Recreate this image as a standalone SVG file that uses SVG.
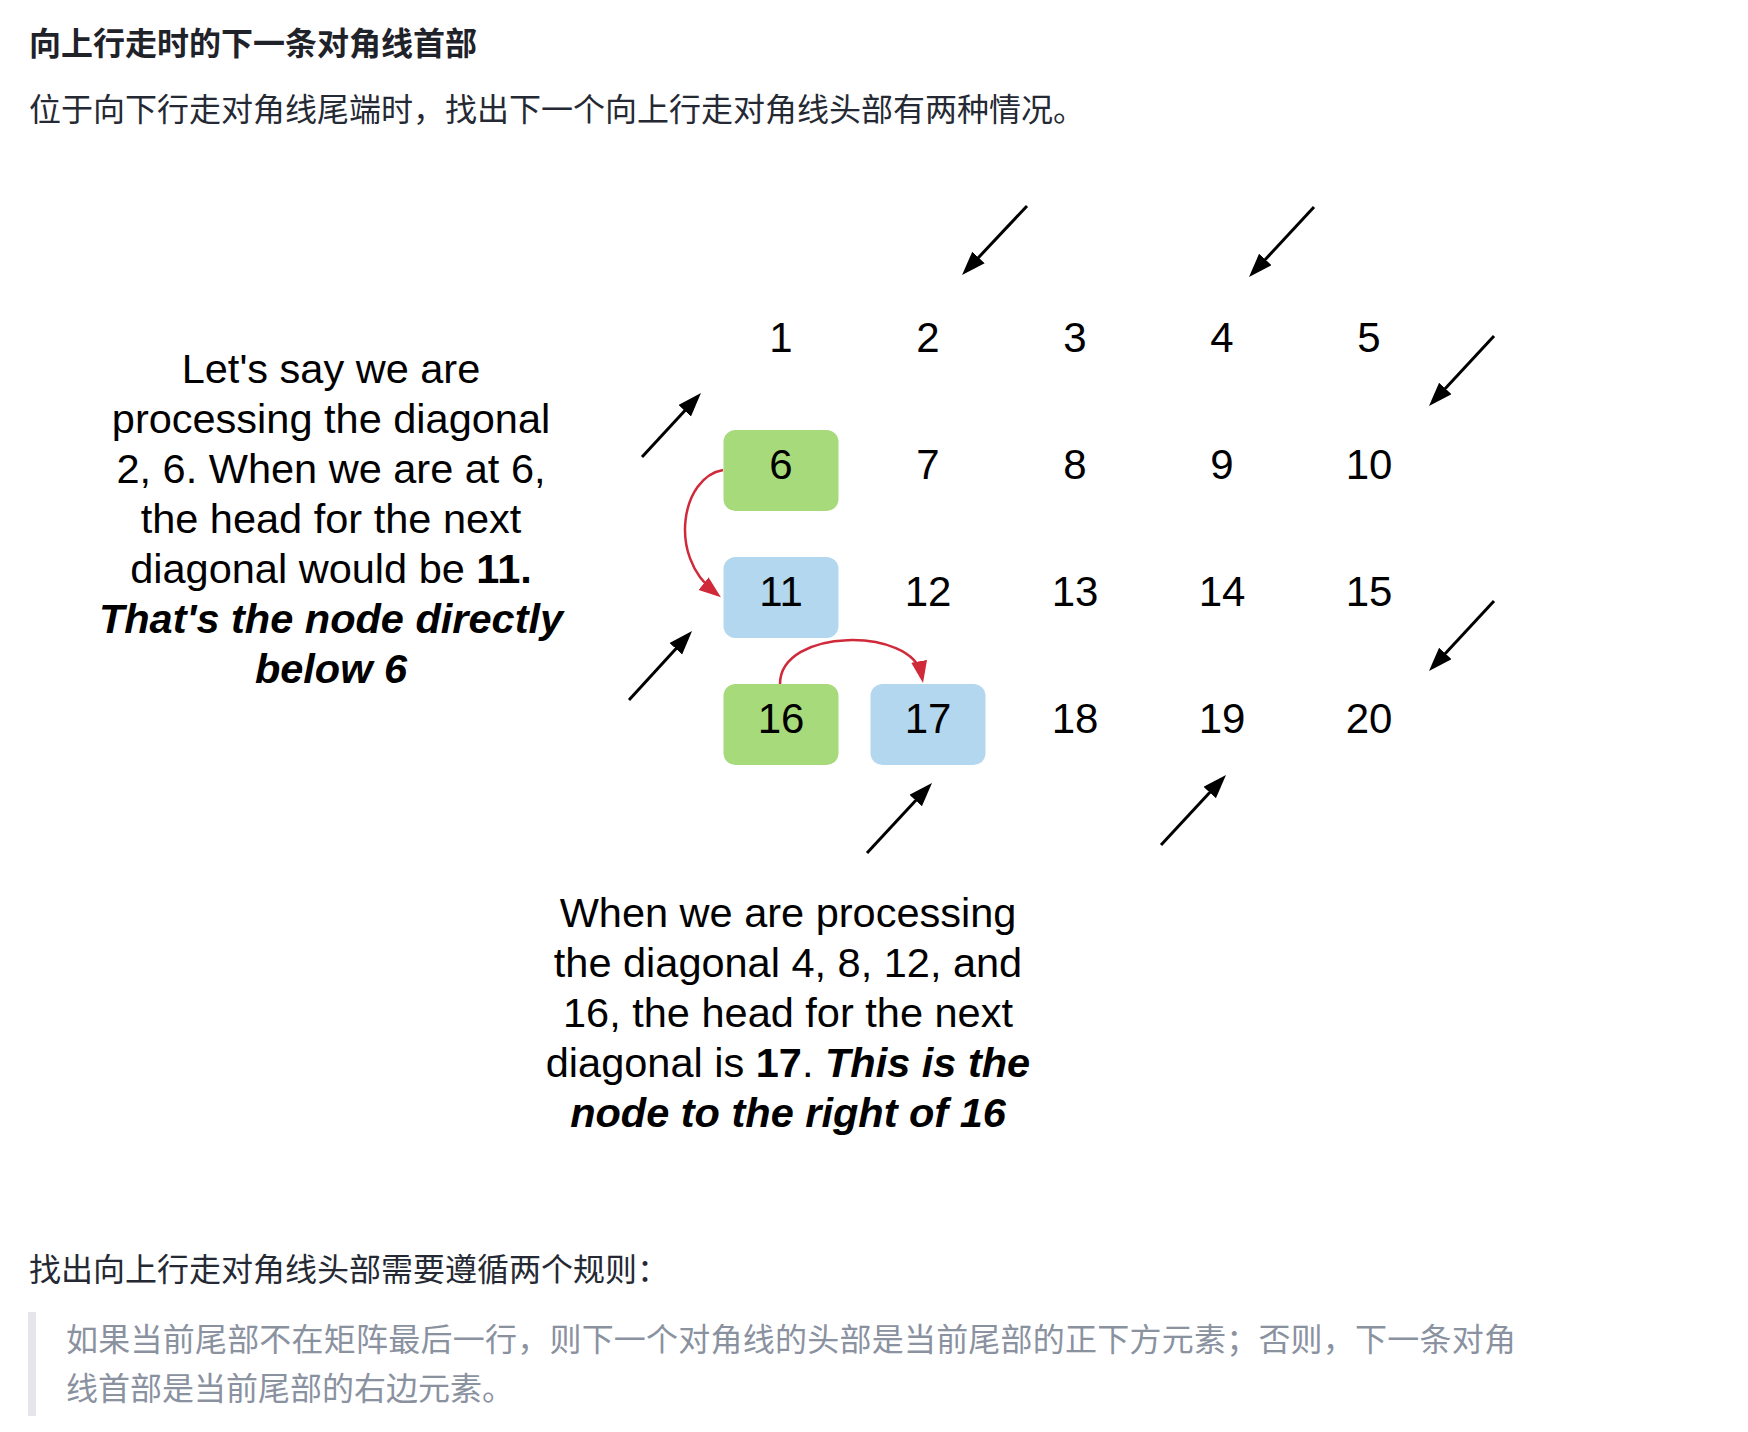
<svg xmlns="http://www.w3.org/2000/svg" width="1748" height="1432" viewBox="0 0 1748 1432">
  <style>
    .cjk { font-family: "Noto Sans CJK SC", sans-serif; font-size: 32px; }
    .title { fill: #1f2329; font-weight: bold; }
    .body { fill: #252933; }
    .quote { fill: #8a919f; }
    .en { font-family: "Liberation Sans", Arial, sans-serif; font-size: 41.5px; fill: #000; text-anchor: middle; }
    .num { font-family: "Liberation Sans", Arial, sans-serif; font-size: 42px; fill: #000; text-anchor: middle; }
    .bi { font-weight: bold; font-style: italic; }
    .b { font-weight: bold; }
    .green { fill: #a6da7a; }
    .blue { fill: #b2d7ee; }
    .arrow { fill: none; stroke: #000; stroke-width: 3; }
    .red { fill: none; stroke: #d0293a; stroke-width: 2.5; }
  </style>
  <defs>
    <marker id="ah" markerUnits="userSpaceOnUse" markerWidth="26" markerHeight="18" refX="14" refY="8.5" orient="auto">
      <path d="M0,0 L24,8.5 L0,17 z" fill="#000"/>
    </marker>
    <marker id="ahr" markerUnits="userSpaceOnUse" markerWidth="24" markerHeight="18" refX="14" refY="8" orient="auto">
      <path d="M0,0 L22,8 L0,16 z" fill="#d0293a"/>
    </marker>
  </defs>
  <rect width="1748" height="1432" fill="#fff"/>

  <g id="header">
    <text class="cjk title" x="29" y="55">向上行走时的下一条对角线首部</text>
    <text class="cjk body" x="29" y="121">位于向下行走对角线尾端时，找出下一个向上行走对角线头部有两种情况。</text>
  </g>

  <g id="note-left">
    <text class="en" x="331" y="383">Let's say we are</text>
    <text class="en" x="331" y="433">processing the diagonal</text>
    <text class="en" x="331" y="483">2, 6. When we are at 6,</text>
    <text class="en" x="331" y="533">the head for the next</text>
    <text class="en" x="331" y="583">diagonal would be <tspan class="b">11.</tspan></text>
    <text class="en bi" x="331" y="633">That's the node directly</text>
    <text class="en bi" x="331" y="683">below 6</text>
  </g>

  <g id="note-bottom">
    <text class="en" x="788" y="927">When we are processing</text>
    <text class="en" x="788" y="977">the diagonal 4, 8, 12, and</text>
    <text class="en" x="788" y="1027">16, the head for the next</text>
    <text class="en" x="788" y="1077">diagonal is <tspan class="b">17</tspan>. <tspan class="bi">This is the</tspan></text>
    <text class="en bi" x="788" y="1127">node to the right of 16</text>
  </g>

  <g id="node-1"><text class="num" x="781" y="352">1</text></g>
  <g id="node-2"><text class="num" x="928" y="352">2</text></g>
  <g id="node-3"><text class="num" x="1075" y="352">3</text></g>
  <g id="node-4"><text class="num" x="1222" y="352">4</text></g>
  <g id="node-5"><text class="num" x="1369" y="352">5</text></g>

  <g id="node-6"><rect class="green" x="723.5" y="430" width="115" height="81" rx="12"/><text class="num" x="781" y="479">6</text></g>
  <g id="node-7"><text class="num" x="928" y="479">7</text></g>
  <g id="node-8"><text class="num" x="1075" y="479">8</text></g>
  <g id="node-9"><text class="num" x="1222" y="479">9</text></g>
  <g id="node-10"><text class="num" x="1369" y="479">10</text></g>

  <g id="node-11"><rect class="blue" x="723.5" y="557" width="115" height="81" rx="12"/><text class="num" x="781" y="606">11</text></g>
  <g id="node-12"><text class="num" x="928" y="606">12</text></g>
  <g id="node-13"><text class="num" x="1075" y="606">13</text></g>
  <g id="node-14"><text class="num" x="1222" y="606">14</text></g>
  <g id="node-15"><text class="num" x="1369" y="606">15</text></g>

  <g id="node-16"><rect class="green" x="723.5" y="684" width="115" height="81" rx="12"/><text class="num" x="781" y="733">16</text></g>
  <g id="node-17"><rect class="blue" x="870.5" y="684" width="115" height="81" rx="12"/><text class="num" x="928" y="733">17</text></g>
  <g id="node-18"><text class="num" x="1075" y="733">18</text></g>
  <g id="node-19"><text class="num" x="1222" y="733">19</text></g>
  <g id="node-20"><text class="num" x="1369" y="733">20</text></g>

  <g id="connectors">
    <path class="arrow" d="M1027,206 L968.9,267.7" marker-end="url(#ah)"/>
    <path class="arrow" d="M1314,207 L1255.8,269.7" marker-end="url(#ah)"/>
    <path class="arrow" d="M1494,336 L1435.8,398.7" marker-end="url(#ah)"/>
    <path class="arrow" d="M642,457 L694.2,400.4" marker-end="url(#ah)"/>
    <path class="arrow" d="M629,700 L685.3,638.4" marker-end="url(#ah)"/>
    <path class="arrow" d="M1494,601 L1435.8,663.7" marker-end="url(#ah)"/>
    <path class="arrow" d="M867,853 L925.2,790.3" marker-end="url(#ah)"/>
    <path class="arrow" d="M1161,845 L1219.2,782.3" marker-end="url(#ah)"/>
    <path class="red" d="M723,470 C682,477 667,555 714.6,592.2" marker-end="url(#ahr)"/>
    <path class="red" d="M780,684 C780,627 913,627 921.6,675.1" marker-end="url(#ahr)"/>
  </g>

  <g id="rules">
    <text class="cjk body" x="29" y="1281">找出向上行走对角线头部需要遵循两个规则：</text>
    <rect x="28" y="1312" width="8" height="104" fill="#e4e6eb"/>
    <text class="cjk quote" x="66" y="1351" textLength="1450" lengthAdjust="spacing">如果当前尾部不在矩阵最后一行，则下一个对角线的头部是当前尾部的正下方元素；否则，下一条对角</text>
    <text class="cjk quote" x="66" y="1400">线首部是当前尾部的右边元素。</text>
  </g>
</svg>
